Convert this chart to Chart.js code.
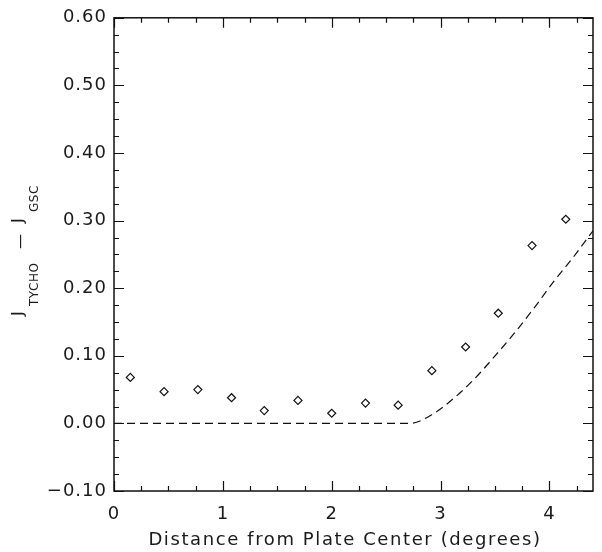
<!DOCTYPE html>
<html lang="en">
<head>
<meta charset="UTF-8">
<title>J Tycho - J GSC</title>
<script src="https://cdn.jsdelivr.net/npm/chart.js@4"></script>
<style>
  html, body { margin: 0; padding: 0; background: #fff; }
  #wrap { width: 602px; height: 552px; }
</style>
</head>
<body>
<div id="wrap"><canvas id="grafico"></canvas></div>
<script>
// pontos medidos (losangos)
var distancias = [0.15, 0.46, 0.77, 1.08, 1.38, 1.69, 2.00, 2.31, 2.61, 2.92, 3.23, 3.53, 3.84, 4.15];
var diferencas = [0.068, 0.047, 0.050, 0.038, 0.019, 0.034, 0.015, 0.030, 0.027, 0.078, 0.113, 0.163, 0.263, 0.302];
// curva tracejada
var curvaX = [0, 2.72, 2.94, 3.12, 3.30, 3.49, 3.67, 3.86, 4.04, 4.22, 4.40];
var curvaY = [0, 0, 0.015, 0.037, 0.064, 0.098, 0.132, 0.171, 0.210, 0.246, 0.285];
// rotulos dos eixos
var ticksX = [0, 1, 2, 3, 4];
var ticksY = [-0.1, 0, 0.1, 0.2, 0.3, 0.4, 0.5, 0.6];

var cor = '#111';
var corTexto = '#1a1a1a';
var fonte = '"DejaVu Sans ExtraLight", "DejaVu Sans"';

// caixa, tracinhos para dentro e titulos
var moldura = {
  id: 'moldura',
  beforeDraw(chart) {
    chart.ctx.letterSpacing = '1px';
  },
  afterDraw(chart) {
    const ctx = chart.ctx, a = chart.chartArea;
    const sx = chart.scales.x, sy = chart.scales.y;
    ctx.save();
    ctx.strokeStyle = cor;
    ctx.lineWidth = 1.5;
    ctx.strokeRect(a.left, a.top, a.right - a.left, a.bottom - a.top);
    ctx.lineWidth = 1.2;
    ctx.beginPath();
    for (let i = 0; i <= 17; i++) {
      const px = Math.round(sx.getPixelForValue(i * 0.25)) + 0.5;
      const len = i % 4 === 0 ? 10 : 5;
      ctx.moveTo(px, a.bottom); ctx.lineTo(px, a.bottom - len);
      ctx.moveTo(px, a.top); ctx.lineTo(px, a.top + len);
    }
    for (let i = 0; i <= 28; i++) {
      const py = Math.round(sy.getPixelForValue(-0.1 + i * 0.025)) + 0.5;
      const len = i % 4 === 0 ? 10 : 5;
      ctx.moveTo(a.left, py); ctx.lineTo(a.left + len, py);
      ctx.moveTo(a.right, py); ctx.lineTo(a.right - len, py);
    }
    ctx.stroke();

    // titulo eixo x
    ctx.fillStyle = corTexto;
    ctx.font = '18px ' + fonte;
    ctx.letterSpacing = '1.6px';
    ctx.textAlign = 'center';
    ctx.textBaseline = 'middle';
    ctx.fillText('Distance from Plate Center (degrees)', 345, 540);

    // titulo eixo y: J_TYCHO - J_GSC
    ctx.letterSpacing = '0.5px';
    ctx.translate(22.5, 318);
    ctx.rotate(-Math.PI / 2);
    ctx.textAlign = 'left';
    ctx.textBaseline = 'alphabetic';
    const grande = '16px ' + fonte, pequeno = '12px ' + fonte;
    ctx.font = grande; ctx.fillText('J', 2, 0);
    ctx.font = pequeno; ctx.fillText('TYCHO', 12, 15);
    ctx.font = '15px ' + fonte; ctx.fillText('\u2014', 69, 2);
    ctx.font = grande; ctx.fillText('J', 95, 0);
    ctx.font = pequeno; ctx.fillText('GSC', 106, 15);
    ctx.restore();
  }
};

new Chart(document.getElementById('grafico'), {
  type: 'scatter',
  data: {
    datasets: [{
      label: 'medidos',
      data: distancias.map((d, i) => ({ x: d, y: diferencas[i] })),
      pointStyle: 'rectRot',
      pointRadius: 4,
      pointBorderWidth: 1.2,
      pointBorderColor: cor,
      pointBackgroundColor: '#fff',
      showLine: false
    }, {
      label: 'curva',
      data: curvaX.map((d, i) => ({ x: d, y: curvaY[i] })),
      showLine: true,
      pointRadius: 0,
      borderColor: cor,
      borderWidth: 1.2,
      borderDash: [8, 5],
      cubicInterpolationMode: 'monotone',
      fill: false
    }]
  },
  options: {
    responsive: true,
    maintainAspectRatio: false,
    animation: false,
    layout: { padding: { top: 13, right: 9, left: 0, bottom: 0 } },
    plugins: { legend: { display: false }, tooltip: { enabled: false } },
    scales: {
      x: {
        type: 'linear', min: 0, max: 4.4,
        afterBuildTicks: s => { s.ticks = ticksX.map(v => ({ value: v })); },
        afterFit: s => { s.height = 61; },
        grid: { display: false, drawTicks: false, tickLength: 0 },
        border: { display: false },
        ticks: {
          autoSkip: false, maxRotation: 0, padding: 13, color: corTexto,
          font: { family: fonte, size: 18 },
          callback: v => String(v)
        }
      },
      y: {
        type: 'linear', min: -0.1, max: 0.6,
        afterBuildTicks: s => { s.ticks = ticksY.map(v => ({ value: v })); },
        afterFit: s => { s.width = 114; },
        grid: { display: false, drawTicks: false, tickLength: 0 },
        border: { display: false },
        ticks: {
          autoSkip: false, padding: 7, color: corTexto,
          font: { family: fonte, size: 18 },
          callback: v => v < 0 ? '\u2212' + Math.abs(v).toFixed(2) : v.toFixed(2)
        }
      }
    }
  },
  plugins: [moldura]
});
</script>
</body>
</html>
